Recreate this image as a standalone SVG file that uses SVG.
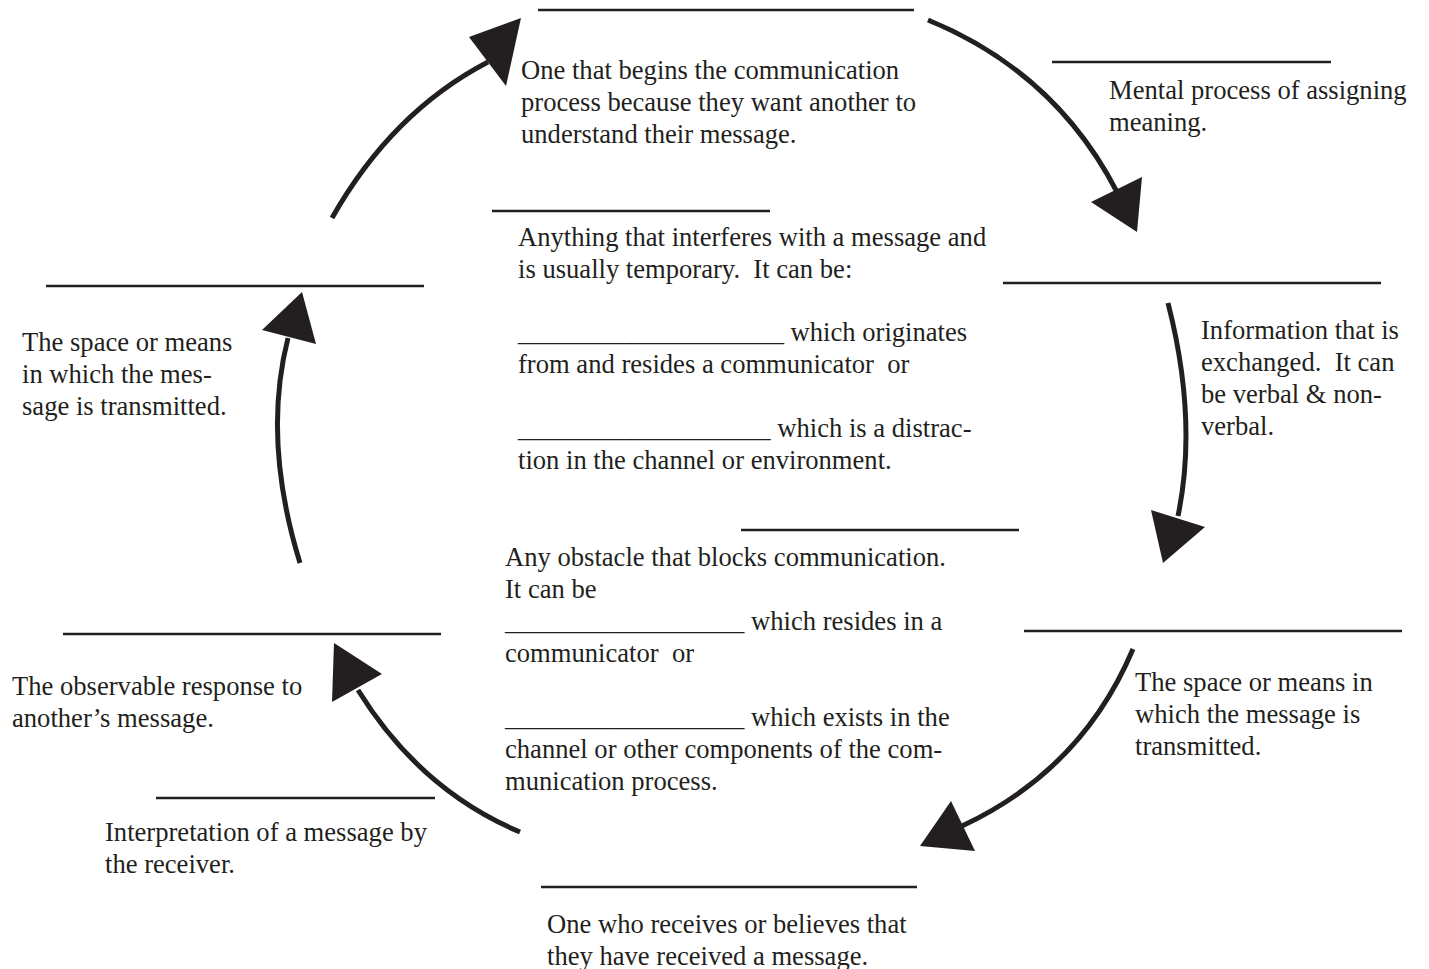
<svg xmlns="http://www.w3.org/2000/svg" width="1429" height="969" viewBox="0 0 1429 969">
<style>
.rule{stroke:#231f20;stroke-width:2.6;fill:none}
.arc{stroke:#231f20;stroke-width:5;fill:none}
.head{fill:#231f20;stroke:none}
text{font-family:"Liberation Serif","Times New Roman",serif;font-size:26.6px;fill:#231f20}
</style>
<rect width="1429" height="969" fill="#ffffff"/>
<g id="sender">
<line class="rule" x1="538" y1="10" x2="914" y2="10"/>
<text x="521" y="79">One that begins the communication</text>
<text x="521" y="111">process because they want another to</text>
<text x="521" y="143">understand their message.</text>
</g>
<g id="decoding">
<line class="rule" x1="1052" y1="62" x2="1331" y2="62"/>
<text x="1109" y="99">Mental process of assigning</text>
<text x="1109" y="131">meaning.</text>
</g>
<g id="noise">
<line class="rule" x1="492" y1="211" x2="770" y2="211"/>
<text x="518" y="246">Anything that interferes with a message and</text>
<text x="518" y="278" xml:space="preserve">is usually temporary.  It can be:</text>
<text x="518" y="341">____________________ which originates</text>
<text x="518" y="373" xml:space="preserve">from and resides a communicator  or</text>
<text x="518" y="437">___________________ which is a distrac-</text>
<text x="518" y="469">tion in the channel or environment.</text>
</g>
<g id="message">
<line class="rule" x1="1003" y1="283" x2="1381" y2="283"/>
<text x="1201" y="339">Information that is</text>
<text x="1201" y="371" xml:space="preserve">exchanged.  It can</text>
<text x="1201" y="403">be verbal &amp; non-</text>
<text x="1201" y="435">verbal.</text>
</g>
<g id="channel-left">
<line class="rule" x1="46" y1="286" x2="424" y2="286"/>
<text x="22" y="351">The space or means</text>
<text x="22" y="383">in which the mes-</text>
<text x="22" y="415">sage is transmitted.</text>
</g>
<g id="barrier">
<line class="rule" x1="741" y1="530" x2="1019" y2="530"/>
<text x="505" y="566">Any obstacle that blocks communication.</text>
<text x="505" y="598">It can be</text>
<text x="505" y="630">__________________ which resides in a</text>
<text x="505" y="662" xml:space="preserve">communicator  or</text>
<text x="505" y="726">__________________ which exists in the</text>
<text x="505" y="758">channel or other components of the com-</text>
<text x="505" y="790">munication process.</text>
</g>
<g id="channel-right">
<line class="rule" x1="1024" y1="631" x2="1402" y2="631"/>
<text x="1135" y="691">The space or means in</text>
<text x="1135" y="723">which the message is</text>
<text x="1135" y="755">transmitted.</text>
</g>
<g id="feedback">
<line class="rule" x1="63" y1="634" x2="441" y2="634"/>
<text x="12" y="695">The observable response to</text>
<text x="12" y="727">another’s message.</text>
</g>
<g id="decoding-receiver">
<line class="rule" x1="156" y1="798" x2="435" y2="798"/>
<text x="105" y="841">Interpretation of a message by</text>
<text x="105" y="873">the receiver.</text>
</g>
<g id="receiver">
<line class="rule" x1="541" y1="887" x2="917" y2="887"/>
<text x="547" y="933">One who receives or believes that</text>
<text x="547" y="965">they have received a message.</text>
</g>
<g id="connectors">
<path class="arc" d="M332,218 Q392,112 488,62"/>
<polygon class="head" points="521,18 469,37 506,86"/>
<path class="arc" d="M928,20 Q1055,72 1117,192"/>
<polygon class="head" points="1137,232 1091,202 1142,177"/>
<path class="arc" d="M1168,303 Q1198,420 1178,516"/>
<polygon class="head" points="1163,563 1151,510 1205,527"/>
<path class="arc" d="M1133,649 Q1082,770 962,826"/>
<polygon class="head" points="920,846 951,801 975,851"/>
<path class="arc" d="M520,832 Q420,790 358,690"/>
<polygon class="head" points="334,643 382,674 332,702"/>
<path class="arc" d="M300,563 Q262,440 288,338"/>
<polygon class="head" points="302,292 262,330 316,344"/>
</g>
</svg>
